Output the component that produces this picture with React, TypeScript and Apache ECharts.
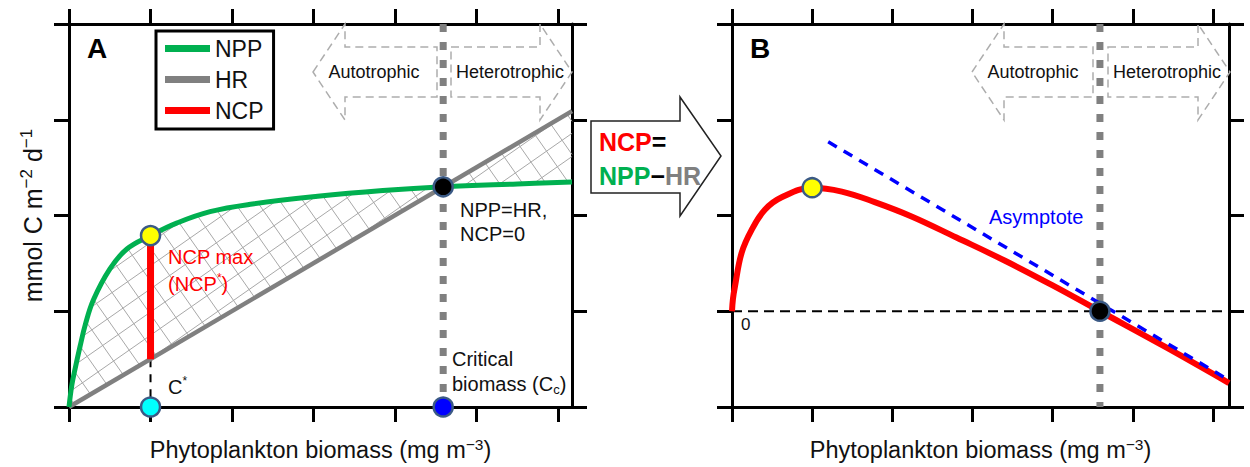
import React, { useEffect, useRef } from 'react';
import * as echarts from 'echarts';

// ---------- data (x in biomass tick units, y in flux tick units) ----------
const xTicksA = [0, 1, 2, 3, 4, 5, 6];
const yTicksA = [0, 1, 2, 3, 4];
const xTicksB = [0, 1, 2, 3, 4, 5, 6];
const yTicksB = [-1, 0, 1, 2, 3];

const nppX = [0, 0.035, 0.075, 0.135, 0.2, 0.3, 0.5, 0.71, 1.0, 1.32, 1.73, 2.25, 3.05, 3.85, 4.59, 5.5, 6.17];
const nppY = [0, 0.23, 0.4, 0.63, 0.86, 1.12, 1.44, 1.65, 1.79, 1.92, 2.04, 2.12, 2.2, 2.26, 2.3, 2.33, 2.35];
const hrX = [0, 6.17];
const hrY = [0, 3.09];

const cStar = 1.0;
const ncpMaxTop = 1.79;
const ncpMaxBottom = 0.5;
const cCrit = 4.59;
const critFlux = 2.3;

const ncpX = [0, 0.012, 0.037, 0.12, 0.245, 0.41, 0.62, 1.0, 1.37, 1.78, 2.24, 2.8, 3.4, 4.0, 4.59, 5.4, 6.2];
const ncpY = [0, 0.13, 0.26, 0.61, 0.85, 1.06, 1.19, 1.29, 1.25, 1.14, 0.99, 0.77, 0.53, 0.27, 0, -0.37, -0.75];
const ncpStar = 1.29;
const asymX = [1.2, 6.2];
const asymY = [1.77, -0.72];

// ---------- styles ----------
const FONT = 'Liberation Sans, Arial, sans-serif';
const GREEN = '#00b050';
const GRAY = '#808080';
const RED = '#ff0000';
const DOT_BORDER = '#3b5a85';

const pairs = (xs: number[], ys: number[]) => xs.map((x, i) => [x, ys[i]]);

const axisLine = { show: true, onZero: false, lineStyle: { color: '#000', width: 3 } };
const tick = (vals: number[]) => ({
  show: true,
  inside: false,
  length: 15,
  customValues: vals,
  lineStyle: { color: '#000', width: 3 },
});
const hidden = { axisLabel: { show: false }, splitLine: { show: false } };

const xTitleRich = {
  t: { fontSize: 23.5, fontFamily: FONT, color: '#111', lineHeight: 28 },
  s: { fontSize: 15.5, fontFamily: FONT, color: '#111', lineHeight: 14, verticalAlign: 'top' },
};
const yTitleRich = {
  t: { fontSize: 25, fontFamily: FONT, color: '#111', lineHeight: 30 },
  s: { fontSize: 17, fontFamily: FONT, color: '#111', lineHeight: 15, verticalAlign: 'top' },
};
const xTitle = '{t|Phytoplankton biomass (mg m}{s|\u22123}{t|)}';
const yTitle = '{t|mmol C m}{s|\u22122}{t| d}{s|\u22121}';

function hatchRender(params: any, api: any) {
  const poly: number[][] = [];
  for (let i = 0; i < nppX.length; i++) poly.push(api.coord([nppX[i], nppY[i]]));
  for (let i = hrX.length - 1; i >= 0; i--) poly.push(api.coord([hrX[i], hrY[i]]));
  const children: any[] = [];
  const angles = [-0.61, 0.96];
  const sp = 19;
  for (const ang of angles) {
    const d = [Math.cos(ang), Math.sin(ang)];
    const n = [-d[1], d[0]];
    const proj = poly.map((p) => p[0] * n[0] + p[1] * n[1]);
    const cmin = Math.min(...proj);
    const cmax = Math.max(...proj);
    for (let c = Math.ceil(cmin / sp) * sp; c <= cmax; c += sp) {
      const ts: number[] = [];
      for (let k = 0; k < poly.length; k++) {
        const k2 = (k + 1) % poly.length;
        const sa = proj[k] - c;
        const sb = proj[k2] - c;
        if ((sa < 0) !== (sb < 0)) {
          const f = sa / (sa - sb);
          const px = poly[k][0] + (poly[k2][0] - poly[k][0]) * f;
          const py = poly[k][1] + (poly[k2][1] - poly[k][1]) * f;
          ts.push(px * d[0] + py * d[1]);
        }
      }
      ts.sort((a, b) => a - b);
      for (let m = 0; m + 1 < ts.length; m += 2) {
        children.push({
          type: 'line',
          shape: {
            x1: c * n[0] + ts[m] * d[0],
            y1: c * n[1] + ts[m] * d[1],
            x2: c * n[0] + ts[m + 1] * d[0],
            y2: c * n[1] + ts[m + 1] * d[1],
          },
          style: { stroke: '#a8a8a8', lineWidth: 1 },
        });
      }
    }
  }
  return { type: 'group', children };
}

function dashedArrows(lt: number, lb: number, lr: number, rl: number, rb: number, rt: number) {
  const top = 24, bt = 47, bb = 97, bot = 120, mid = 72;
  const st = { fill: 'none', stroke: '#adadad', lineWidth: 1.5, lineDash: [8, 5] };
  return [
    { type: 'polygon', z: 1, shape: { points: [[lt, mid], [lb, top], [lb, bt], [lr, bt], [lr, bb], [lb, bb], [lb, bot]] }, style: st },
    { type: 'polygon', z: 1, shape: { points: [[rl, bt], [rb, bt], [rb, top], [rt, mid], [rb, bot], [rb, bb], [rl, bb]] }, style: st },
  ];
}

function txt(x: number, y: number, text: string, size: number, color: string, extra: any = {}) {
  return {
    type: 'text',
    z: 20,
    x,
    y,
    style: {
      text,
      fontSize: size,
      fontFamily: FONT,
      fill: color,
      align: extra.align || 'left',
      textAlign: extra.align || 'left',
      verticalAlign: 'middle',
      textVerticalAlign: 'middle',
      fontWeight: extra.bold ? 'bold' : 'normal',
      rich: extra.rich,
    },
  };
}

const supRich = (size: number, color: string) => ({
  b: { fontSize: size, fontFamily: FONT, fill: color, lineHeight: 24 },
  s: { fontSize: size * 0.6, fontFamily: FONT, fill: color, lineHeight: 10, verticalAlign: 'top' },
  c: { fontSize: size * 0.65, fontFamily: FONT, fill: color, lineHeight: 12, verticalAlign: 'bottom' },
});

const boldRich = {
  r: { fontSize: 25, fontWeight: 'bold', fontFamily: FONT, fill: RED },
  g: { fontSize: 25, fontWeight: 'bold', fontFamily: FONT, fill: GREEN },
  h: { fontSize: 25, fontWeight: 'bold', fontFamily: FONT, fill: GRAY },
  k: { fontSize: 25, fontWeight: 'bold', fontFamily: FONT, fill: '#000' },
};

const option: any = {
  animation: false,
  backgroundColor: '#fff',
  grid: [
    { left: 69, top: 24, width: 503, height: 385 },
    { left: 732, top: 24, width: 497, height: 385 },
  ],
  xAxis: [
    { gridIndex: 0, type: 'value', min: 0, max: 6.17, position: 'bottom', axisLine, axisTick: tick(xTicksA), ...hidden,
      name: xTitle, nameLocation: 'middle', nameGap: 29, nameTextStyle: { rich: xTitleRich } },
    { gridIndex: 0, type: 'value', min: 0, max: 6.17, position: 'top', axisLine, axisTick: tick(xTicksA), ...hidden },
    { gridIndex: 1, type: 'value', min: 0, max: 6.2, position: 'bottom', axisLine, axisTick: tick(xTicksB), ...hidden,
      name: xTitle, nameLocation: 'middle', nameGap: 29, nameTextStyle: { rich: xTitleRich } },
    { gridIndex: 1, type: 'value', min: 0, max: 6.2, position: 'top', axisLine, axisTick: tick(xTicksB), ...hidden },
  ],
  yAxis: [
    { gridIndex: 0, type: 'value', min: 0, max: 4, position: 'left', axisLine, axisTick: tick(yTicksA), ...hidden,
      name: yTitle, nameLocation: 'middle', nameRotate: 90, nameGap: 21, nameTextStyle: { rich: yTitleRich } },
    { gridIndex: 0, type: 'value', min: 0, max: 4, position: 'right', axisLine, axisTick: tick(yTicksA), ...hidden },
    { gridIndex: 1, type: 'value', min: -1, max: 3, position: 'left', axisLine, axisTick: tick(yTicksB), ...hidden },
    { gridIndex: 1, type: 'value', min: -1, max: 3, position: 'right', axisLine, axisTick: tick(yTicksB), ...hidden },
  ],
  legend: {
    data: ['NPP', 'HR', 'NCP'],
    orient: 'vertical',
    left: 156,
    top: 31,
    padding: [6, 10, 7, 9],
    itemWidth: 45,
    itemHeight: 7,
    itemGap: 8,
    icon: 'rect',
    borderColor: '#000',
    borderWidth: 3,
    backgroundColor: '#fff',
    selectedMode: false,
    textStyle: { fontSize: 23, fontFamily: FONT, color: '#111' },
  },
  series: [
    // ----- panel A -----
    { type: 'custom', name: 'hatch', xAxisIndex: 0, yAxisIndex: 0, z: 1, silent: true, data: [[0, 0]], renderItem: hatchRender },
    { type: 'line', name: 'critA', xAxisIndex: 0, yAxisIndex: 0, z: 2, symbol: 'none', data: [[cCrit, 4], [cCrit, 0]],
      lineStyle: { color: GRAY, width: 7, type: [8, 10] } },
    { type: 'line', name: 'cstarA', xAxisIndex: 0, yAxisIndex: 0, z: 2, symbol: 'none', data: [[cStar, ncpMaxBottom], [cStar, 0]],
      lineStyle: { color: '#000', width: 2, type: [8, 7] } },
    { type: 'line', name: 'HR', xAxisIndex: 0, yAxisIndex: 0, z: 3, symbol: 'none', data: pairs(hrX, hrY),
      color: GRAY, itemStyle: { color: GRAY }, lineStyle: { color: GRAY, width: 4.5 } },
    { type: 'line', name: 'NPP', xAxisIndex: 0, yAxisIndex: 0, z: 3, symbol: 'none', smooth: 0.4, data: pairs(nppX, nppY),
      color: GREEN, itemStyle: { color: GREEN }, lineStyle: { color: GREEN, width: 5 } },
    { type: 'line', name: 'NCP', xAxisIndex: 0, yAxisIndex: 0, z: 4, symbol: 'none', data: [[cStar, ncpMaxBottom], [cStar, ncpMaxTop]],
      color: RED, itemStyle: { color: RED }, lineStyle: { color: RED, width: 7, cap: 'butt' } },
    { type: 'scatter', name: 'dotsA', xAxisIndex: 0, yAxisIndex: 0, z: 10, clip: false, symbolSize: 19,
      itemStyle: { borderColor: DOT_BORDER, borderWidth: 2.5, opacity: 1 },
      data: [
        { value: [cStar, ncpMaxTop], itemStyle: { color: '#ffff00' } },
        { value: [cCrit, critFlux], itemStyle: { color: '#000' } },
        { value: [cStar, 0], itemStyle: { color: '#00ffff' } },
        { value: [cCrit, 0], itemStyle: { color: '#0000ff' } },
      ] },
    // ----- panel B -----
    { type: 'line', name: 'zeroB', xAxisIndex: 2, yAxisIndex: 2, z: 2, symbol: 'none', data: [[0, 0], [6.2, 0]],
      lineStyle: { color: '#000', width: 1.8, type: [10, 6] } },
    { type: 'line', name: 'critB', xAxisIndex: 2, yAxisIndex: 2, z: 2, symbol: 'none', data: [[cCrit, 3], [cCrit, -1]],
      lineStyle: { color: GRAY, width: 7, type: [8, 10] } },
    { type: 'line', name: 'NCP', xAxisIndex: 2, yAxisIndex: 2, z: 3, symbol: 'none', smooth: 0.4, data: pairs(ncpX, ncpY),
      color: RED, itemStyle: { color: RED }, lineStyle: { color: RED, width: 6 } },
    { type: 'line', name: 'asym', xAxisIndex: 2, yAxisIndex: 2, z: 4, symbol: 'none', data: pairs(asymX, asymY),
      lineStyle: { color: '#0000ff', width: 3.5, type: [10, 8] } },
    { type: 'scatter', name: 'dotsB', xAxisIndex: 2, yAxisIndex: 2, z: 10, clip: false, symbolSize: 19,
      itemStyle: { borderColor: DOT_BORDER, borderWidth: 2.5, opacity: 1 },
      data: [
        { value: [cStar, ncpStar], itemStyle: { color: '#ffff00' } },
        { value: [cCrit, 0], itemStyle: { color: '#000' } },
      ] },
  ],
  graphic: {
    elements: [
      ...dashedArrows(313, 345, 437, 451, 540, 572),
      ...dashedArrows(972, 1004, 1093, 1108, 1198, 1230),
      txt(374, 72, 'Autotrophic', 18, '#111', { align: 'center' }),
      txt(510, 72, 'Heterotrophic', 18, '#111', { align: 'center' }),
      txt(1033, 72, 'Autotrophic', 18, '#111', { align: 'center' }),
      txt(1167, 72, 'Heterotrophic', 18, '#111', { align: 'center' }),
      txt(87, 48, 'A', 28, '#000', { bold: true }),
      txt(750, 48, 'B', 28, '#000', { bold: true }),
      txt(168, 257, 'NCP max', 20, RED),
      txt(168, 284, '{b|(NCP}{s|*}{b|)}', 20, RED, { rich: supRich(20, RED) }),
      txt(168, 387, '{b|C}{s|*}', 20, '#111', { rich: supRich(20, '#111') }),
      txt(460, 210, 'NPP=HR,', 20, '#111'),
      txt(460, 234, 'NCP=0', 20, '#111'),
      txt(452, 359, 'Critical', 20, '#111'),
      txt(452, 384, '{b|biomass (C}{c|c}{b|)}', 20, '#111', { rich: supRich(20, '#111') }),
      txt(989, 217, 'Asymptote', 20, '#0000ff'),
      txt(741, 324, '0', 17, '#111'),
      {
        type: 'polygon',
        z: 15,
        shape: { points: [[591, 121], [680, 121], [680, 97], [721, 156], [680, 216], [680, 193], [591, 193]] },
        style: { fill: '#fff', stroke: '#222', lineWidth: 1.5 },
      },
      txt(599, 142, '{r|NCP}{k|=}', 25, '#000', { bold: true, rich: boldRich }),
      txt(599, 176, '{g|NPP}{k|\u2212}{h|HR}', 25, '#000', { bold: true, rich: boldRich }),
    ],
  },
};

export default function App() {
  const ref = useRef<HTMLDivElement>(null);
  useEffect(() => {
    const chart = echarts.init(ref.current!, null, { renderer: 'svg' });
    chart.setOption(option);
    return () => chart.dispose();
  }, []);
  return (
    <div
      ref={ref}
      style={{ position: 'absolute', left: 0, top: 0, width: 1250, height: 467, background: '#fff' }}
    />
  );
}
